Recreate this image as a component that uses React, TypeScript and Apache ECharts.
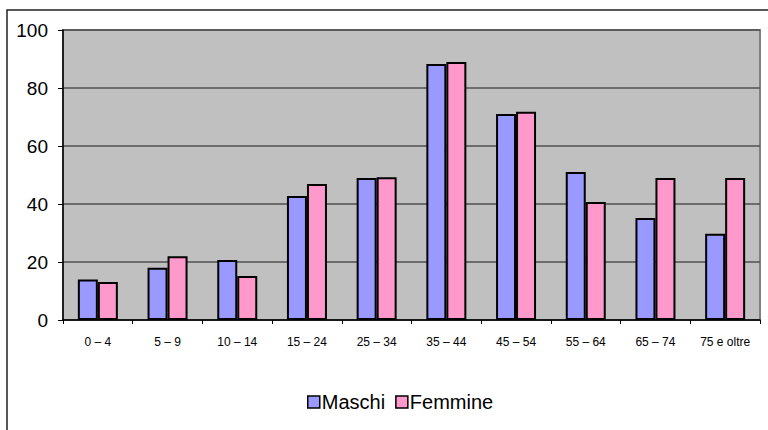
import React, { useEffect, useRef } from "react";
import * as echarts from "echarts";

const categories = ["0 – 4", "5 – 9", "10 – 14", "15 – 24", "25 – 34", "35 – 44", "45 – 54", "55 – 64", "65 – 74", "75 e oltre"];
const maschi = [14, 18, 20.7, 42.8, 49, 88.3, 71, 51, 35.2, 29.7];
const femmine = [13.1, 22, 15.2, 46.9, 49.2, 89, 71.8, 40.7, 49, 49];
const yTicks = [0, 20, 40, 60, 80, 100];

export default function App() {
  const ref = useRef<HTMLDivElement>(null);
  useEffect(() => {
    document.body.style.margin = "0";
    const chart = echarts.init(ref.current!, null, { renderer: "svg" });
    const font = "'Liberation Sans', Arial, sans-serif";
    chart.setOption({
      animation: false,
      backgroundColor: "#ffffff",
      textStyle: { fontFamily: font },
      graphic: [
        {
          type: "rect",
          shape: { x: 7, y: 10, width: 800, height: 500 },
          style: { fill: "none", stroke: "#222", lineWidth: 1.5 },
          silent: true,
          z: -1,
        },
      ],
      grid: {
        left: 63,
        right: 8,
        top: 30,
        bottom: 110,
        show: true,
        backgroundColor: "#C0C0C0",
        borderColor: "#808080",
        borderWidth: 2,
      },
      legend: {
        left: 302,
        top: 387,
        itemWidth: 12,
        itemHeight: 12,
        itemGap: 10,
        icon: "rect",
        textStyle: { fontSize: 20, color: "#000", fontFamily: font, padding: [0, 0, 0, -3] },
        itemStyle: { borderColor: "#000", borderWidth: 1.5 },
        data: ["Maschi", "Femmine"],
      },
      xAxis: {
        type: "category",
        data: categories,
        axisLine: { lineStyle: { color: "#000", width: 1.5 } },
        axisTick: { show: true, length: 4, inside: false, lineStyle: { color: "#000" } },
        axisLabel: { fontSize: 12, color: "#000", margin: 16, fontFamily: font },
        splitLine: { show: false },
      },
      yAxis: {
        type: "value",
        min: yTicks[0],
        max: yTicks[yTicks.length - 1],
        interval: 20,
        axisLine: { show: true, lineStyle: { color: "#000", width: 1.5 } },
        axisTick: { show: true, length: 5, lineStyle: { color: "#000" } },
        axisLabel: { fontSize: 19, color: "#000", margin: 15, fontFamily: font },
        splitLine: { show: true, lineStyle: { color: "#505050", width: 1.5 } },
      },
      series: [
        {
          name: "Maschi",
          type: "bar",
          data: maschi,
          barWidth: 20,
          barGap: "0%",
          itemStyle: { color: "#9999FF", borderColor: "#000", borderWidth: 2 },
        },
        {
          name: "Femmine",
          type: "bar",
          data: femmine,
          barWidth: 20,
          barGap: "0%",
          itemStyle: { color: "#FF99CC", borderColor: "#000", borderWidth: 2 },
        },
      ],
    });
    return () => chart.dispose();
  }, []);
  return <div ref={ref} style={{ position: "fixed", left: 0, top: 0, width: 768, height: 430 }} />;
}
